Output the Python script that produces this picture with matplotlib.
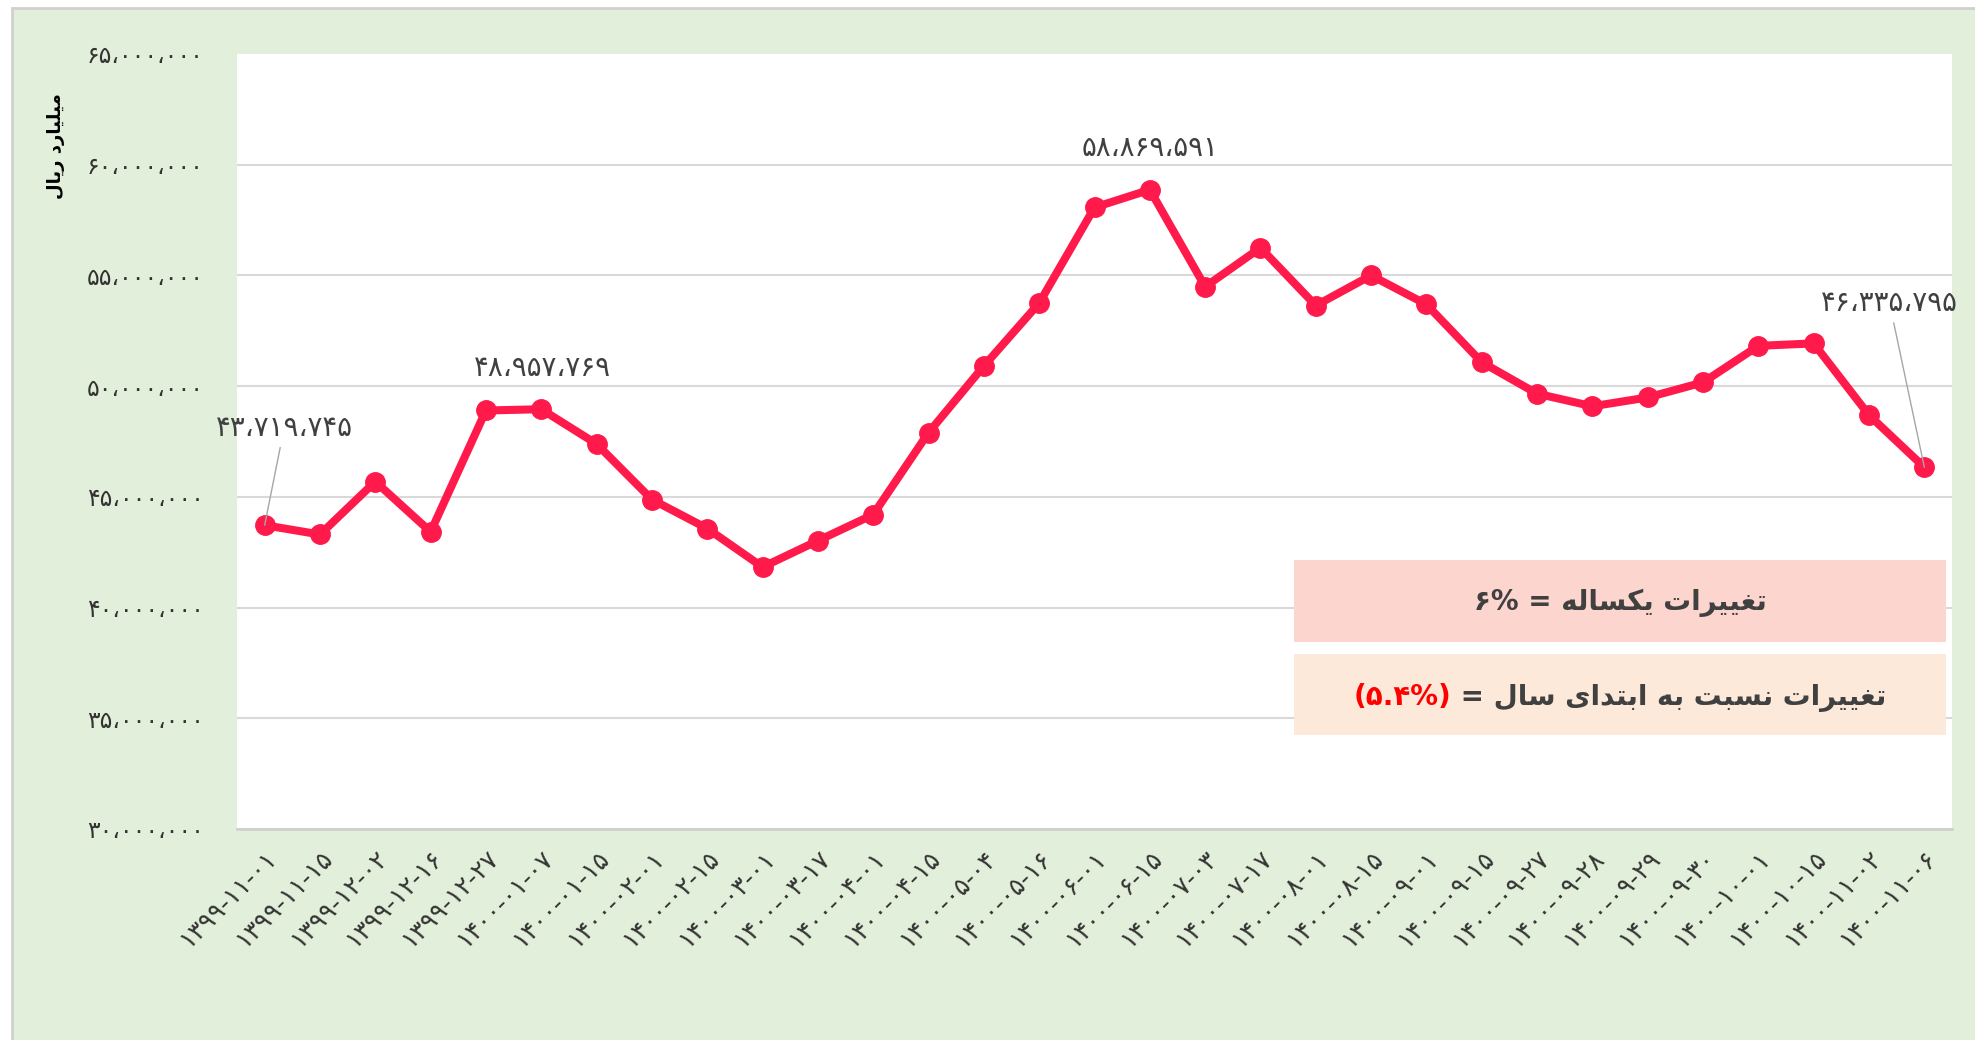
import matplotlib
matplotlib.use("Agg")
import matplotlib.pyplot as plt
from matplotlib.patches import Rectangle
from matplotlib.ticker import FuncFormatter
from matplotlib.offsetbox import TextArea, HPacker, AnnotationBbox

plt.rcParams['font.family'] = ['DejaVu Sans']

# data
dates = ['1399-11-01', '1399-11-15', '1399-12-02', '1399-12-16', '1399-12-27',
         '1400-01-07', '1400-01-15', '1400-02-01', '1400-02-15', '1400-03-01',
         '1400-03-17', '1400-04-01', '1400-04-15', '1400-05-04', '1400-05-16',
         '1400-06-01', '1400-06-15', '1400-07-03', '1400-07-17', '1400-08-01',
         '1400-08-15', '1400-09-01', '1400-09-15', '1400-09-27', '1400-09-28',
         '1400-09-29', '1400-09-30', '1400-10-01', '1400-10-15', '1400-11-02',
         '1400-11-06']
values = [43719745, 43300000, 45690000, 43420000, 48900000,
          48957769, 47390000, 44880000, 43570000, 41830000,
          43020000, 44200000, 47900000, 50910000, 53750000,
          58070000, 58869591, 54490000, 56250000, 53640000,
          55000000, 53690000, 51080000, 49660000, 49090000,
          49490000, 50170000, 51820000, 51930000, 48690000,
          46335795]
labelled = [0, 5, 16, 30]
label_offsets = [(14, 70), (1, 30), (0, 30), (-25, 118)]

y_title = 'میلیارد ریال'
box1_words = 'تغییرات یکساله'
box1_value = '6%'
box2_words = 'تغییرات نسبت به ابتدای سال'
box2_value = '(5.4%)'

FA_DIGITS = str.maketrans('0123456789', '۰۱۲۳۴۵۶۷۸۹')

# presentation forms: isolated, final, initial, medial
FORMS = {
    'ا': ('\uFE8D', '\uFE8E', None, None),
    'ب': ('\uFE8F', '\uFE90', '\uFE91', '\uFE92'),
    'ت': ('\uFE95', '\uFE96', '\uFE97', '\uFE98'),
    'د': ('\uFEA9', '\uFEAA', None, None),
    'ر': ('\uFEAD', '\uFEAE', None, None),
    'س': ('\uFEB1', '\uFEB2', '\uFEB3', '\uFEB4'),
    'غ': ('\uFECD', '\uFECE', '\uFECF', '\uFED0'),
    'ل': ('\uFEDD', '\uFEDE', '\uFEDF', '\uFEE0'),
    'م': ('\uFEE1', '\uFEE2', '\uFEE3', '\uFEE4'),
    'ن': ('\uFEE5', '\uFEE6', '\uFEE7', '\uFEE8'),
    'ه': ('\uFEE9', '\uFEEA', '\uFEEB', '\uFEEC'),
    'ی': ('\uFBFC', '\uFBFD', '\uFBFE', '\uFBFF'),
    'ک': ('\uFB8E', '\uFB8F', '\uFB90', '\uFB91'),
}


def fa(s):
    # join letters and put them in visual (right-to-left) order
    out = []
    for i, ch in enumerate(s):
        if ch not in FORMS:
            out.append(ch)
            continue
        prev = s[i - 1] if i > 0 else ''
        nxt = s[i + 1] if i + 1 < len(s) else ''
        jp = prev in FORMS and FORMS[prev][2] is not None
        jn = nxt in FORMS and FORMS[ch][2] is not None
        iso, fin, ini, med = FORMS[ch]
        if jp and jn:
            out.append(med)
        elif jp:
            out.append(fin)
        elif jn:
            out.append(ini)
        else:
            out.append(iso)
    return ''.join(reversed(out))


def fa_num(v):
    return format(int(v), ',').translate(FA_DIGITS).replace(',', '،')


W, H = 1975, 1040
fig = plt.figure(figsize=(W / 100, H / 100), dpi=100)
fig.patch.set_facecolor('white')
fig.add_artist(Rectangle((12 / W, -0.1), 1.2, 1.1 - 8 / H, transform=fig.transFigure,
                         facecolor='#E2EFDA', edgecolor='#D0D0D0', lw=2, zorder=0))

ax = fig.add_axes([237 / W, 211 / H, 1715 / W, 775 / H])
ax.set_facecolor('white')
x = list(range(len(dates)))
ax.plot(x, values, color='#FF1A4B', lw=5.8, marker='o', ms=14, zorder=3,
        solid_joinstyle='round')

ax.set_xlim(-0.5, len(dates) - 0.5)
ax.set_ylim(30e6, 65e6)
ax.set_yticks(range(30000000, 65000001, 5000000))
ax.yaxis.set_major_formatter(FuncFormatter(lambda v, p: fa_num(v)))
ax.set_xticks(x)
ax.set_xticklabels([d.translate(FA_DIGITS) for d in dates], rotation=45,
                   ha='right', va='top', rotation_mode='anchor')
ax.tick_params(axis='y', length=0, pad=24, labelsize=17, labelcolor='#333333')
ax.tick_params(axis='x', length=0, pad=12, labelsize=18, labelcolor='#333333')
ax.grid(axis='y', color='#D9D9D9', lw=1.5)
ax.get_ygridlines()[-1].set_visible(False)
ax.set_axisbelow(True)
for side in ['left', 'right', 'top']:
    ax.spines[side].set_visible(False)
ax.spines['bottom'].set_color('#D0D0D0')
ax.spines['bottom'].set_linewidth(2)

for i, off in zip(labelled, label_offsets):
    arrow = None
    if i in (0, 30):
        arrow = dict(arrowstyle='-', color='#A6A6A6', lw=1, shrinkA=2, shrinkB=0)
    ax.annotate(fa_num(values[i]), (i, values[i]), xytext=off, textcoords='offset points',
                ha='center', va='center', fontsize=20, color='#404040',
                arrowprops=arrow, zorder=4)

fig.text(56 / W, 1 - 146 / H, fa(y_title), rotation=90, ha='center', va='center',
         fontsize=13, fontweight='bold', color='black')

# summary boxes
fig.add_artist(Rectangle((1294 / W, 1 - 642 / H), 652 / W, 82 / H, transform=fig.transFigure,
                         facecolor='#FCD5CE', edgecolor='none', zorder=5))
fig.add_artist(Rectangle((1294 / W, 1 - 735 / H), 652 / W, 81 / H, transform=fig.transFigure,
                         facecolor='#FDE9D9', edgecolor='none', zorder=5))
fig.text(1620 / W, 1 - 603 / H, box1_value.translate(FA_DIGITS) + ' = ' + fa(box1_words),
         ha='center', va='center', fontsize=20, fontweight='bold', color='#404040', zorder=6)

red = TextArea(box2_value.translate(FA_DIGITS),
               textprops=dict(fontsize=20, fontweight='bold', color='#FF0000'))
dark = TextArea(' = ' + fa(box2_words), textprops=dict(fontsize=20, fontweight='bold', color='#404040'))
pack = HPacker(children=[red, dark], align='center', pad=0, sep=0)
ab = AnnotationBbox(pack, (1620 / W, 1 - 697 / H), xycoords='figure fraction',
                    frameon=False, box_alignment=(0.5, 0.5), zorder=6)
fig.add_artist(ab)

fig.savefig('out.png', dpi=100)
